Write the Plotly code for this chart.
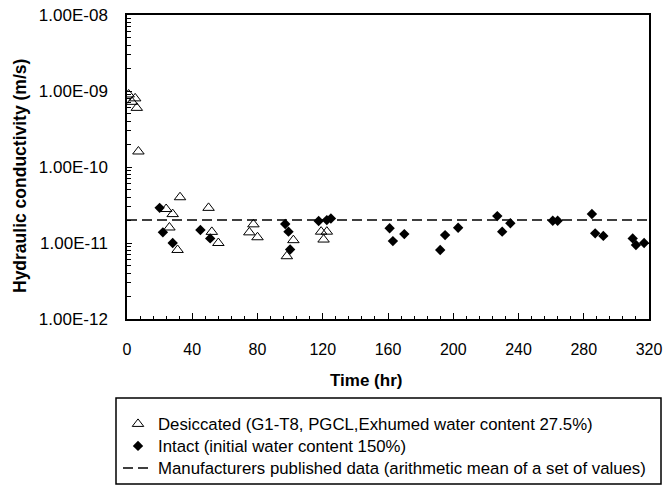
import plotly.graph_objects as go

# Desiccated (triangles)
desiccated_t = [1, 3, 5, 6, 7, 24, 26, 28, 32.5, 31, 50, 52, 56, 75, 77.5, 80, 98, 102, 119, 120.5, 122.5]
desiccated_k = [9.0e-10, 7.2e-10, 8.0e-10, 6.0e-10, 1.6e-10, 2.8e-11, 1.6e-11, 2.4e-11, 4.0e-11, 8.1e-12,
                2.9e-11, 1.4e-11, 1.0e-11, 1.38e-11, 1.76e-11, 1.19e-11, 6.7e-12, 1.09e-11, 1.41e-11, 1.11e-11, 1.41e-11]

# Intact (diamonds)
intact_t = [20, 22, 28, 45, 51, 97, 99, 100, 117.5, 122.5, 125,
            161, 163, 170, 192, 195, 203, 227, 230, 235, 261, 264, 285, 287, 292, 310, 312, 317]
intact_k = [2.9e-11, 1.38e-11, 1.0e-11, 1.48e-11, 1.15e-11, 1.78e-11, 1.41e-11, 8.2e-12, 1.95e-11, 2.0e-11, 2.1e-11,
            1.56e-11, 1.06e-11, 1.31e-11, 8.1e-12, 1.27e-11, 1.59e-11, 2.26e-11, 1.41e-11, 1.82e-11, 1.96e-11, 1.96e-11,
            2.41e-11, 1.34e-11, 1.24e-11, 1.15e-11, 9.4e-12, 1.0e-11]

# Manufacturer's published data (mean)
manuf_t = [0, 320]
manuf_k = [2.0e-11, 2.0e-11]

y_tickvals = [1e-12, 1e-11, 1e-10, 1e-9, 1e-8]
y_ticktext = ["1.00E-12", "1.00E-11", "1.00E-10", "1.00E-09", "1.00E-08"]
x_tickvals = [0, 40, 80, 120, 160, 200, 240, 280, 320]

names = ["Desiccated (G1-T8, PGCL,Exhumed water content 27.5%)",
         "Intact (initial water content 150%)",
         "Manufacturers published data (arithmetic mean of a set of values)"]

FONT = "Arial, Liberation Sans, sans-serif"

W, H = 665, 485
PL, PT, PR, PB = 127, 15, 649, 319          # plot area in window pixels
pw, ph = PR - PL, PB - PT


def px(x):
    return (x - PL) / pw


def py(y):
    return (PB - y) / ph


fig = go.Figure()
fig.add_trace(go.Scatter(x=desiccated_t, y=desiccated_k, mode="markers", name=names[0], legend="legend",
                         marker=dict(symbol="triangle-up-open", size=10, color="black",
                                     line=dict(width=1, color="black"))))
fig.add_trace(go.Scatter(x=intact_t, y=intact_k, mode="markers", name=names[1], legend="legend2",
                         marker=dict(symbol="diamond", size=8, color="black")))
fig.add_trace(go.Scatter(x=manuf_t, y=manuf_k, mode="lines", name=names[2], legend="legend3",
                         line=dict(color="black", width=1.5, dash="10px,5px")))

minor_vals = [m * 10.0 ** e for e in range(-12, -8) for m in range(2, 10)]

leg_common = dict(xanchor="left", yanchor="middle", bgcolor="rgba(0,0,0,0)", borderwidth=0,
                  font=dict(size=16.8, family=FONT), itemwidth=30)

fig.update_layout(
    width=W, height=H,
    margin=dict(l=PL, r=W - PR, t=PT, b=H - PB, autoexpand=False),
    paper_bgcolor="white", plot_bgcolor="white",
    font=dict(family=FONT, size=16, color="black"),
    showlegend=True,
    legend=dict(x=px(118), y=py(424), **leg_common),
    legend2=dict(x=px(118), y=py(446), **leg_common),
    legend3=dict(x=px(118), y=py(468), **leg_common),
    xaxis=dict(range=[0, 320], tickmode="array", tickvals=x_tickvals,
               ticks="inside", ticklen=6, tickcolor="black", tickfont=dict(size=16),
               showline=True, linecolor="black", linewidth=1.5, mirror=True,
               showgrid=False, zeroline=False, ticklabelstandoff=15, ticklabeloverflow="allow",
               minor=dict(dtick=8, ticks="inside", ticklen=3, tickcolor="black", showgrid=False)),
    yaxis=dict(type="log", range=[-12, -8], tickmode="array", tickvals=y_tickvals, ticktext=y_ticktext,
               ticks="inside", ticklen=5, tickcolor="black", tickfont=dict(size=17),
               showline=True, linecolor="black", linewidth=1.5, mirror=True,
               showgrid=False, zeroline=False, ticklabelstandoff=14, ticklabeloverflow="allow",
               minor=dict(tickmode="array", tickvals=minor_vals, ticks="inside", ticklen=4,
                          tickcolor="black", showgrid=False)),
    annotations=[
        dict(text="<b>Time (hr)</b>", xref="paper", yref="paper", x=px(366), y=py(380),
             xanchor="center", yanchor="middle", showarrow=False, font=dict(size=17, family=FONT)),
        dict(text="<b>Hydraulic conductivity (m/s)</b>", xref="paper", yref="paper", x=px(20), y=py(176),
             xanchor="center", yanchor="middle", textangle=-90, showarrow=False,
             font=dict(size=17.5, family=FONT)),
    ],
    shapes=[
        dict(type="rect", xref="paper", yref="paper", x0=px(116), x1=px(661), y0=py(398), y1=py(484),
             line=dict(color="black", width=1.5), fillcolor="rgba(0,0,0,0)", layer="below"),
    ],
)

fig.write_html("out.html", config={"displayModeBar": False},
               post_script="document.body.style.margin='0';document.body.style.overflow='hidden';")
